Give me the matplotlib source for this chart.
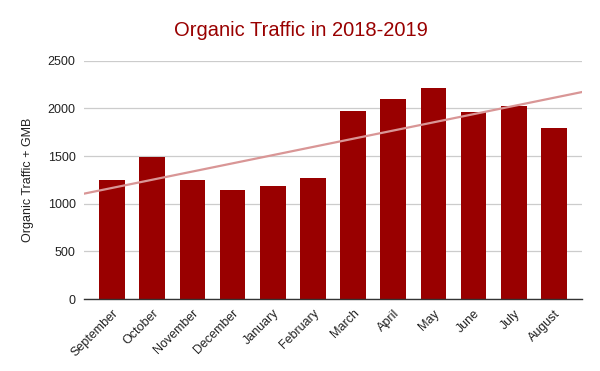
import numpy as np
import matplotlib
import matplotlib.pyplot as plt

matplotlib.use('Agg')

months = ["September", "October", "November", "December", "January", "February",
          "March", "April", "May", "June", "July", "August"]
traffic = [1250, 1492, 1250, 1145, 1187, 1271, 1975, 2101, 2213, 1964, 2027, 1796]
y_ticks = [0, 500, 1000, 1500, 2000, 2500]

plt.rcParams['font.family'] = ['Liberation Sans', 'DejaVu Sans']

fig = plt.figure(figsize=(6, 3.71), dpi=100)
ax = fig.add_axes([0.14, 0.194, 0.83, 0.642])

x = np.arange(len(months))
ax.bar(x, traffic, width=0.64, color='#990000', zorder=3)

# linear trendline across the full plot width
slope, intercept = np.polyfit(x, traffic, 1)
xl = np.array([-0.7, len(months) - 0.3])
ax.plot(xl, slope * xl + intercept, color='#d99696', linewidth=1.6, zorder=4)

ax.set_xlim(-0.7, len(months) - 0.3)
ax.set_ylim(0, 2500)
ax.set_yticks(y_ticks)
ax.set_yticklabels([str(v) for v in y_ticks], fontsize=9, color='#222222')
ax.set_xticks(x)
ax.set_xticklabels(months, rotation=45, ha='right', rotation_mode='anchor',
                   fontsize=9, color='#222222')
ax.tick_params(axis='both', length=0, pad=6)

ax.grid(axis='y', color='#cccccc', linewidth=0.9, zorder=0)
for s in ['top', 'right', 'left']:
    ax.spines[s].set_visible(False)
ax.spines['bottom'].set_color('#333333')
ax.spines['bottom'].set_linewidth(1.0)
ax.spines['bottom'].set_zorder(5)

ax.set_ylabel('Organic Traffic + GMB', fontsize=9, color='#222222', labelpad=10)
fig.text(0.502, 0.917, 'Organic Traffic in 2018-2019', ha='center', va='center',
         fontsize=14.5, color='#990000')

fig.savefig('out.png', dpi=100)
